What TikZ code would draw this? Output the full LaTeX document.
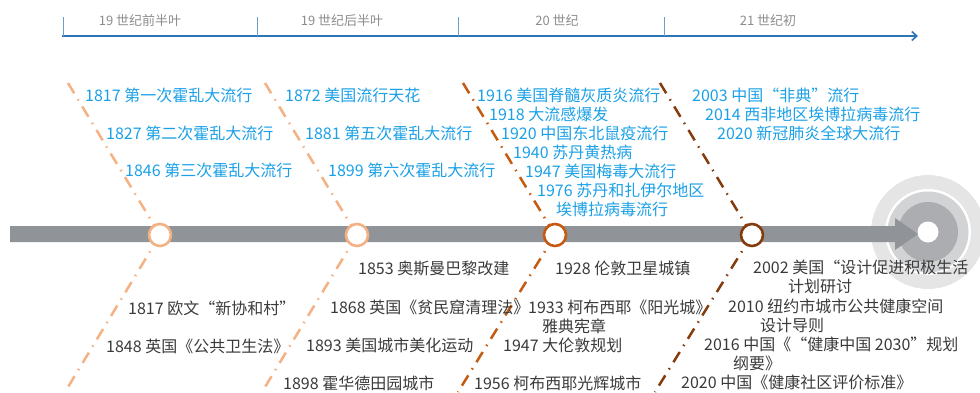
\documentclass[tikz,border=0pt]{standalone}
\usepackage{fontspec}
\setmainfont{Noto Sans CJK SC}
\usetikzlibrary{arrows.meta}
\definecolor{bluetxt}{HTML}{1AA0E6}
\definecolor{darktxt}{HTML}{3A3A3A}
\definecolor{axisgray}{HTML}{8C8C8C}
\definecolor{axisblue}{HTML}{2E75B6}
\definecolor{bargray}{HTML}{909398}
\definecolor{lcA}{HTML}{F4B183}
\definecolor{lcB}{HTML}{C55A11}
\definecolor{lcC}{HTML}{843C0C}
\definecolor{ringA}{HTML}{E5E5E6}
\definecolor{ringB}{HTML}{D2D3D5}
\definecolor{ringC}{HTML}{ABADB0}
\tikzset{
  tline/.style={line width=2.5pt, dash pattern=on 12pt off 7pt on 1.5pt off 7pt},
  circ/.style={circle, draw, line width=2.6pt, fill=white, minimum size=22pt, inner sep=0pt},
  ev/.style={font=\fontsize{16}{19}\selectfont, text=bluetxt, anchor=base west, inner sep=0pt},
  evc/.style={ev, anchor=base},
  pl/.style={font=\fontsize{16}{19}\selectfont, text=darktxt, anchor=base west, inner sep=0pt},
  plc/.style={pl, anchor=base},
  axl/.style={font=\fontsize{13}{15}\selectfont, text=axisgray, anchor=base, inner sep=0pt},
  tick/.style={draw=axisblue!70, line width=0.8pt}
}
\begin{document}
\begin{tikzpicture}[x=1pt,y=-1pt]
\useasboundingbox (0,0) rectangle (980,392);
% top axis
\coordinate (axs) at (62,36);
\coordinate (axe) at (918,36);
\draw[axisblue, line width=2pt, -{Straight Barb[length=5pt,width=9pt,line width=1.6pt]}] (axs) -- (axe);
\foreach \x [count=\i] in {63,257,458,664}{
  \coordinate (tk\i a) at (\x,17);
  \coordinate (tk\i b) at (\x,36);
  \draw[tick] (tk\i a) -- (tk\i b);
}
\node[axl] (ax1) at (140,25) {19 世纪前半叶};
\node[axl] (ax2) at (342,25) {19 世纪后半叶};
\node[axl] (ax3) at (557,25) {20 世纪};
\node[axl] (ax4) at (768,25) {21 世纪初};
% target rings
\coordinate (tg) at (928,232);
\fill[ringA] (tg) circle[radius=57];
\fill[white] (tg) circle[radius=43];
\fill[ringB] (tg) circle[radius=40.5];
\fill[ringC] (tg) circle[radius=30];
\fill[white] (tg) circle[radius=10.5];
% main bar with arrow
\fill[bargray] (10,226) -- (895,226) -- (895,218) -- (918,234) -- (895,250) -- (895,242) -- (10,242) -- cycle;
% chevron lines
\coordinate (m1) at (160,235); \coordinate (a1) at (68,83);  \coordinate (b1) at (65,392);
\coordinate (m2) at (357,235); \coordinate (a2) at (265,83); \coordinate (b2) at (262,392);
\coordinate (m3) at (555,235); \coordinate (a3) at (463,83); \coordinate (b3) at (458,392);
\coordinate (m4) at (752,235); \coordinate (a4) at (660,83); \coordinate (b4) at (655,392);
\draw[tline, lcA] (a1) -- (m1); \draw[tline, lcA] (m1) -- (b1);
\draw[tline, lcA] (a2) -- (m2); \draw[tline, lcA] (m2) -- (b2);
\draw[tline, lcB] (a3) -- (m3); \draw[tline, lcB] (m3) -- (b3);
\draw[tline, lcC] (a4) -- (m4); \draw[tline, lcC] (m4) -- (b4);
\node[circ, draw=lcA] (c1) at (m1) {};
\node[circ, draw=lcA] (c2) at (m2) {};
\node[circ, draw=lcB] (c3) at (m3) {};
\node[circ, draw=lcC] (c4) at (m4) {};
% epidemic events (top)
\node[ev] (e1) at (85,101) {1817 第一次霍乱大流行};
\node[ev] (e2) at (106,139) {1827 第二次霍乱大流行};
\node[ev] (e3) at (125,176) {1846 第三次霍乱大流行};
\node[ev] (e4) at (285,101) {1872 美国流行天花};
\node[ev] (e5) at (305,139) {1881 第五次霍乱大流行};
\node[ev] (e6) at (328,176) {1899 第六次霍乱大流行};
\node[ev] (e7) at (477,101) {1916 美国脊髓灰质炎流行};
\node[ev] (e8) at (489,120) {1918 大流感爆发};
\node[ev] (e9) at (501,139) {1920 中国东北鼠疫流行};
\node[ev] (e10) at (513,158) {1940 苏丹黄热病};
\node[ev] (e11) at (525,177) {1947 美国梅毒大流行};
\node[ev] (e12) at (537,196) {1976 苏丹和扎伊尔地区};
\node[evc] (e12b) at (612,215) {埃博拉病毒流行};
\node[ev] (e13) at (692,101) {2003 中国“非典”流行};
\node[ev] (e14) at (705,120) {2014 西非地区埃博拉病毒流行};
\node[ev] (e15) at (717,139) {2020 新冠肺炎全球大流行};
% planning events (bottom)
\node[pl] (p1) at (128,314) {1817 欧文“新协和村”};
\node[pl] (p2) at (106,352) {1848 英国《公共卫生法》};
\node[pl] (p3) at (358,274) {1853 奥斯曼巴黎改建};
\node[pl] (p4) at (330,313) {1868 英国《贫民窟清理法》};
\node[pl] (p5) at (306,351) {1893 美国城市美化运动};
\node[pl] (p6) at (283,389) {1898 霍华德田园城市};
\node[pl] (p7) at (555,274) {1928 伦敦卫星城镇};
\node[pl] (p8) at (528,313) {1933 柯布西耶《阳光城》};
\node[plc] (p8b) at (574,332) {雅典宪章};
\node[pl] (p9) at (503,351) {1947 大伦敦规划};
\node[pl] (p10) at (474,389) {1956 柯布西耶光辉城市};
\node[pl] (p11) at (753,273) {2002 美国“设计促进积极生活};
\node[plc] (p11b) at (820,292) {计划研讨};
\node[pl] (p12) at (728,312) {2010 纽约市城市公共健康空间};
\node[plc] (p12b) at (792,331) {设计导则};
\node[pl] (p13) at (704,350) {2016 中国《“健康中国 2030”规划};
\node[plc] (p13b) at (757,369) {纲要》};
\node[pl] (p14) at (681,388) {2020 中国《健康社区评价标准》};
\end{tikzpicture}
\end{document}
